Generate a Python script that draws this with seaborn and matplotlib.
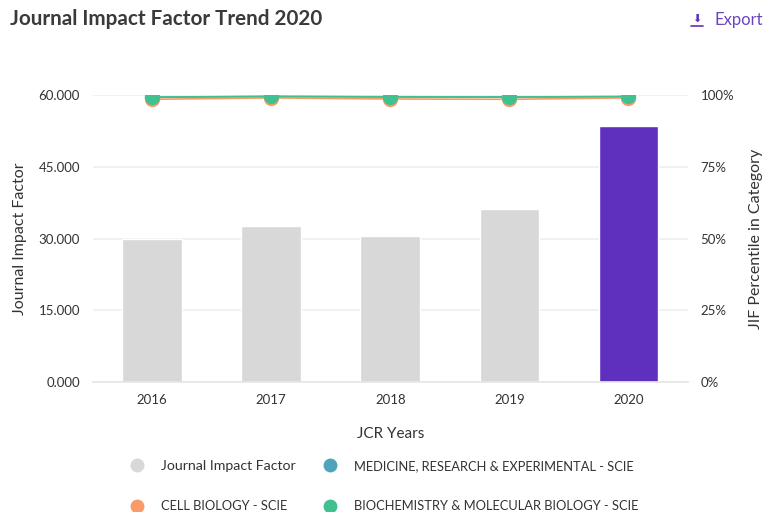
import matplotlib
matplotlib.use("Agg")
import matplotlib.pyplot as plt
from matplotlib.lines import Line2D
import seaborn as sns
import pandas as pd

years = ["2016", "2017", "2018", "2019", "2020"]
jif = [29.85, 32.7, 30.5, 36.1, 53.6]
medicine = [99.2, 99.5, 99.3, 99.3, 99.4]
cell = [98.5, 99.0, 98.6, 98.5, 99.0]
biochem = [99.3, 99.5, 99.4, 99.3, 99.5]
bar_colors = ["#d8d8d8", "#d8d8d8", "#d8d8d8", "#d8d8d8", "#5f30bd"]
FONT = "Lato"
TEXT = "#333333"

sns.set_theme(style="white")
plt.rcParams["font.family"] = [FONT, "DejaVu Sans"]

W, H = 765, 512
fig = plt.figure(figsize=(W / 100, H / 100), dpi=100, facecolor="white")
ax = fig.add_axes([92.5 / W, 1 - 382 / H, (688 - 92.5) / W, (382 - 95) / H])

df = pd.DataFrame({"year": years, "jif": jif})
sns.barplot(data=df, x="year", y="jif", hue="year", palette=bar_colors, legend=False,
            width=0.5, saturation=1, ax=ax, zorder=2)
ax.set_xlim(-0.5, 4.5)
ax.set_ylim(0, 60)
ax.set_yticks([0, 15, 30, 45, 60], ["0.000", "15.000", "30.000", "45.000", "60.000"])
ax.yaxis.grid(True, color="#efefef", lw=1.2)
ax.set_axisbelow(True)
ax.set_xlabel("JCR Years", fontsize=11, color=TEXT, labelpad=15)
ax.set_ylabel("Journal Impact Factor", fontsize=11.5, color=TEXT, labelpad=8)
ax.tick_params(axis="both", length=0, labelsize=9.5, labelcolor=TEXT)
ax.tick_params(axis="x", pad=9)
ax.tick_params(axis="y", pad=9)
for s in ax.spines.values():
    s.set_visible(False)
ax.spines["bottom"].set_visible(True)
ax.spines["bottom"].set_color("#e6e6e6")

ax2 = ax.twinx()
ax2.set_ylim(0, 100)
series = [(medicine, "#4fa3bb"), (cell, "#f99b68"), (biochem, "#42c190")]
for vals, col in series:
    sns.lineplot(x=list(range(5)), y=vals, color=col, lw=1.2, marker="o", markersize=11,
                 markeredgewidth=0, ax=ax2, zorder=3)
ax2.set_yticks([0, 25, 50, 75, 100], ["0%", "25%", "50%", "75%", "100%"])
ax2.set_ylabel("JIF Percentile in Category", fontsize=11.5, color=TEXT, labelpad=11)
ax2.tick_params(axis="y", length=0, labelsize=9.5, labelcolor=TEXT, pad=9)
for s in ax2.spines.values():
    s.set_visible(False)
ax2.grid(False)

fig.text(10 / W, 1 - 19 / H, "Journal Impact Factor Trend 2020", fontsize=14.9, fontweight="bold",
         color="#3a3a3a", va="center", ha="left")
fig.text(715 / W, 1 - 20 / H, "Export", fontsize=12, color="#6a45c0", va="center", ha="left")
fig.text(697 / W, 1 - 19 / H, "\u2b07", fontsize=8, color="#5f30bd", va="center", ha="center",
         family="DejaVu Sans")
fig.add_artist(Line2D([691 / W, 703 / W], [1 - 25.5 / H] * 2, color="#5f30bd", lw=1.2))

handles = [Line2D([], [], ls="", marker="o", ms=10, mew=0, color=c)
           for c in ["#d8d8d8", "#f99b68", "#4fa3bb", "#42c190"]]
labels = ["Journal Impact Factor", "CELL BIOLOGY - SCIE",
          "MEDICINE, RESEARCH & EXPERIMENTAL - SCIE", "BIOCHEMISTRY & MOLECULAR BIOLOGY - SCIE"]
leg = fig.legend(handles, labels, ncols=2, frameon=False, loc="center left",
                 bbox_to_anchor=(124 / W, 1 - 486 / H), fontsize=9.3, labelcolor=TEXT,
                 labelspacing=2.2, columnspacing=1.62, handletextpad=0.9, borderpad=0,
                 borderaxespad=0)
leg.get_texts()[0].set_fontsize(10.2)
fig.savefig("out.png", dpi=100)
